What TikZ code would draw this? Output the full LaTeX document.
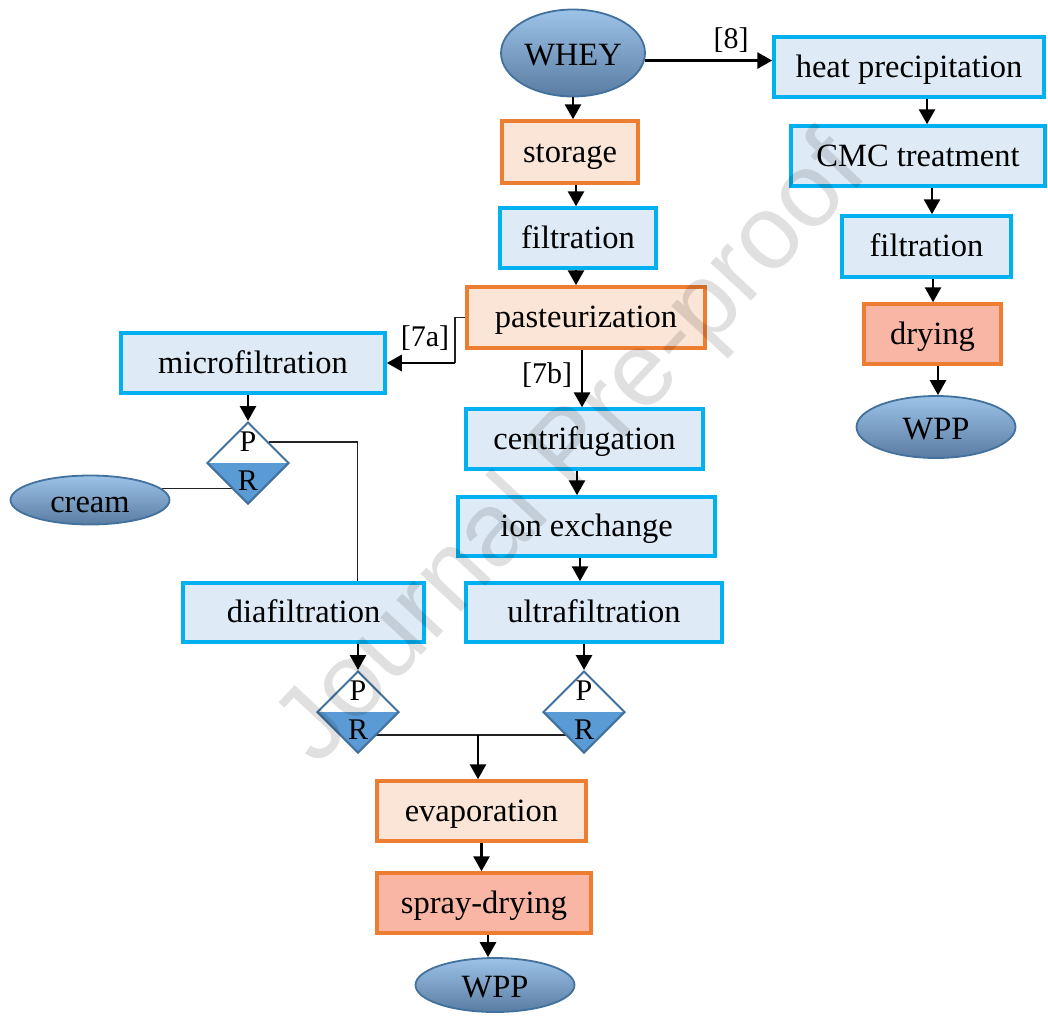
\documentclass[tikz,border=0pt]{standalone}
\usepackage{fontspec}
\setmainfont{Liberation Serif}
\newfontfamily\wmfont{Liberation Sans}
\usetikzlibrary{arrows.meta,shapes.geometric,backgrounds}

\definecolor{boxblue}{HTML}{00B0F0}
\definecolor{fillblue}{HTML}{DEEBF7}
\definecolor{boxorange}{HTML}{ED7D31}
\definecolor{fillpeach}{HTML}{FBE5D6}
\definecolor{fillsalmon}{HTML}{F9B6A4}
\definecolor{ellborder}{HTML}{41719C}
\definecolor{elltop}{HTML}{9DC3E8}
\definecolor{ellbottom}{HTML}{5A7CA2}
\definecolor{sepfill}{HTML}{5B9BD5}
\definecolor{linegray}{HTML}{222222}

\begin{document}
\begin{tikzpicture}[x=1pt,y=-1pt,
  every node/.style={font=\fontsize{32.5}{38}\selectfont, inner sep=0pt},
  stepframe/.style={rectangle, line width=3.5pt, text height=25pt, text depth=5pt},
  bluebox/.style={stepframe, draw=boxblue, fill=fillblue},
  orangebox/.style={stepframe, draw=boxorange, fill=fillpeach},
  drybox/.style={stepframe, draw=boxorange, fill=fillsalmon},
  product/.style={ellipse, draw=ellborder, line width=1.8pt, top color=elltop, bottom color=ellbottom,
    text height=28pt, text depth=3pt},
  separator/.style={diamond, minimum width=82pt, minimum height=82pt, draw=ellborder, line width=2pt, fill=white,
    path picture={\fill[sepfill] (path picture bounding box.west) rectangle (path picture bounding box.south east);}},
  pr/.style={font=\fontsize{30}{36}\selectfont},
  tag/.style={font=\fontsize{30}{36}\selectfont},
  arr/.style={line width=2.8pt, -{Triangle[length=15pt,width=16pt]}},
  link/.style={line width=1.3pt, draw=linegray},
]
\useasboundingbox (0,0) rectangle (1048,1015);

% ---- main line ----
\node[product, minimum width=144pt, minimum height=87pt] (whey) at (573,53) {WHEY};
\node[orangebox, minimum width=136pt, minimum height=62pt] (storage) at (570,152) {storage};
\node[bluebox, minimum width=156pt, minimum height=60pt] (filt) at (578,238) {filtration};
\node[orangebox, minimum width=238pt, minimum height=61pt] (past) at (586,317.5) {pasteurization};
\node[bluebox, minimum width=237pt, minimum height=60pt] (centrif) at (584.5,439) {centrifugation};
\node[bluebox, minimum width=257pt, minimum height=59pt] (ion) at (586.5,526.5) {ion exchange};
\node[bluebox, minimum width=256pt, minimum height=59pt] (ultra) at (594,612.5) {ultrafiltration};

% ---- microfiltration branch ----
\node[bluebox, minimum width=264pt, minimum height=60pt] (micro) at (253,363) {microfiltration};
\node[separator] (d1) at (248,463) {};
\node[pr] (d1p) at (248,442) {P};
\node[pr] (d1r) at (248,481) {R};
\node[product, minimum width=159pt, minimum height=49pt] (cream) at (90,500) {cream};
\node[bluebox, minimum width=241pt, minimum height=59pt] (diaf) at (303.5,612.5) {diafiltration};
\node[separator] (d2) at (358,712) {};
\node[pr] (d2p) at (358,691) {P};
\node[pr] (d2r) at (358,730) {R};
\node[separator] (d3) at (584,712) {};
\node[pr] (d3p) at (584,691) {P};
\node[pr] (d3r) at (584,730) {R};

% ---- final drying ----
\node[orangebox, minimum width=209pt, minimum height=60pt] (evap) at (481.5,811) {evaporation};
\node[drybox, minimum width=214pt, minimum height=60pt] (spray) at (484,903) {spray-drying};
\node[product, minimum width=159pt, minimum height=54pt] (wpp) at (495,985) {WPP};

% ---- heat precipitation route ----
\node[bluebox, minimum width=270pt, minimum height=60pt] (heat) at (909,67) {heat precipitation};
\node[bluebox, minimum width=254pt, minimum height=60pt] (cmc) at (918,156) {CMC treatment};
\node[bluebox, minimum width=169pt, minimum height=61pt] (filtr) at (926.5,246.5) {filtration};
\node[drybox, minimum width=137pt, minimum height=60pt] (dry) at (932.5,334) {drying};
\node[product, minimum width=159pt, minimum height=62pt] (wppr) at (936,427) {WPP};

% ---- route labels ----
\node[tag] (t8) at (731,40) {[8]};
\node[tag] (t7a) at (425,338) {[7a]};
\node[tag] (t7b) at (547,375) {[7b]};

% ---- arrows ----
\draw[arr] (whey.south) -- (whey.south |- storage.north);
\draw[arr] ([xshift=6pt]storage.south) -- ([xshift=6pt]storage.south |- filt.north);
\draw[arr] ([xshift=-2pt]filt.south) -- ([xshift=-2pt]filt.south |- past.north);
\draw[arr] ([xshift=-4pt]past.south) -- ([xshift=-4pt]past.south |- centrif.north);
\draw[arr] ([xshift=-7.5pt]centrif.south) -- ([xshift=-7.5pt]centrif.south |- ion.north);
\draw[arr] ([xshift=-6.5pt]ion.south) -- ([xshift=-6.5pt]ion.south |- ultra.north);

\coordinate (c7a) at (455,363);
\draw[link] (past.west) -| (c7a);
\draw[arr] (c7a) -- (micro.east);

\draw[arr] (micro.south -| d1.north) -- (d1.north);
\draw[link] (d1.north east) -| ([xshift=54pt]diaf.north);
\draw[arr] (diaf.south -| d2.north) -- (d2.north);
\draw[arr] (ultra.south -| d3.north) -- (d3.north);

\begin{scope}[on background layer]
  \draw[link] (cream.9) -- (cream.9 -| d1.center);
  \draw[link] ([yshift=-23pt]d2.center) -- ([yshift=-23pt]d3.center);
\end{scope}
\coordinate (join) at (478,735);
\draw[arr] (join) -- (join |- evap.north);
\draw[arr] (evap.south) -- (evap.south |- spray.north);
\draw[arr] ([xshift=4pt]spray.south) -- ([xshift=4pt]spray.south |- wpp.north);

\draw[arr] (whey.-6) -- (whey.-6 -| heat.west);
\draw[arr] ([xshift=18pt]heat.south) -- ([xshift=18pt]heat.south |- cmc.north);
\draw[arr] ([xshift=14pt]cmc.south) -- ([xshift=14pt]cmc.south |- filtr.north);
\draw[arr] ([xshift=6.5pt]filtr.south) -- ([xshift=6.5pt]filtr.south |- dry.north);
\draw[arr] ([xshift=5.5pt]dry.south) -- ([xshift=5.5pt]dry.south |- wppr.north);

% ---- watermark ----
\node[font=\wmfont\fontsize{105}{125}\selectfont, text=black, opacity=0.12, rotate=47] (wm) at (574,452) {Journal Pre-proof};
\end{tikzpicture}
\end{document}
